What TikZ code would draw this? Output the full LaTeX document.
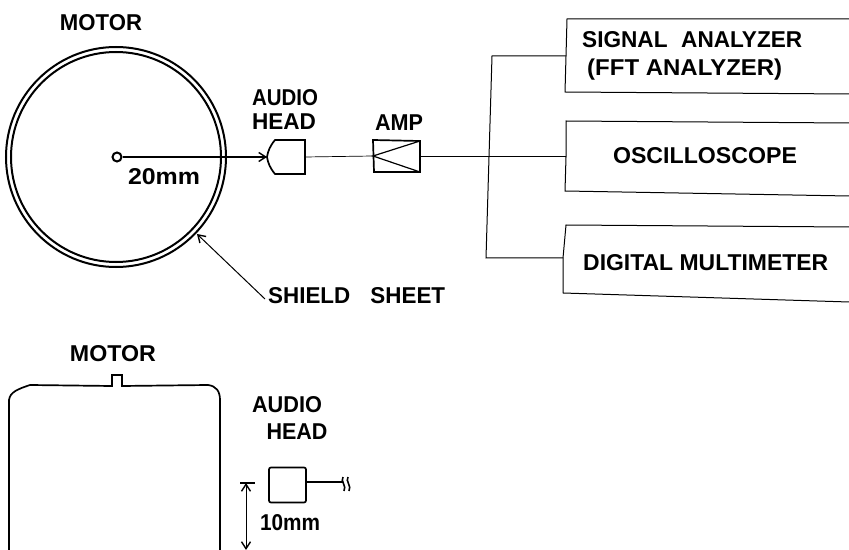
\documentclass[tikz,border=0pt]{standalone}
\usepackage{fontspec}
\setmainfont{Liberation Sans}
\usetikzlibrary{arrows.meta}
\newsavebox{\fitbox}
\newcommand\fitw[2]{\sbox{\fitbox}{#2}\pgfmathsetmacro\fitfac{#1*1.00375/\the\wd\fitbox}\scalebox{\fitfac}[1]{\usebox{\fitbox}}}
\tikzset{
 lbl/.style={font=\fontsize{23}{26}\selectfont\bfseries,inner sep=0pt,text=black},
 thin line/.style={line width=1bp,black},
 thick line/.style={line width=1.7bp,black},
 barb/.tip={Straight Barb[length=7bp,width=9bp,line width=1.4bp]}
}
\begin{document}
\begin{tikzpicture}[x=1bp,y=-1bp]
\useasboundingbox (0,0) rectangle (849,550);
% motor top view
\node[circle,draw,line width=2bp,minimum size=220bp,inner sep=0pt] (shield) at (116,157) {};
\node[circle,draw,line width=2bp,minimum size=210bp,inner sep=0pt] (motor) at (116,157) {};
\node[circle,draw,line width=2bp,minimum size=9bp,inner sep=0pt] (shaft) at (117,157) {};
\node[lbl] (t1) at (101,23) {\fitw{82}{MOTOR}};
% head and amp
\coordinate (headtip) at (267,157);
\draw[thick line] (305,140) -- (275,140) .. controls (270,146) and (268,151) .. (headtip) .. controls (268,163) and (270,168) .. (275,174) -- (305,174) -- cycle;
\coordinate (headout) at (305,157);
\draw[thick line,-barb] (shaft.east) -- (headtip);
\node[lbl] (t0) at (164,177) {\fitw{72}{20mm}};
\node[lbl] (t2) at (285,98) {\fitw{66}{AUDIO}};
\node[lbl] (t3) at (284,122) {\fitw{64}{HEAD}};
\node[lbl] (t4) at (399,123) {\fitw{48}{AMP}};
\coordinate (ampin) at (373,156);
\coordinate (ampa) at (420,141);
\coordinate (ampb) at (420,172);
\draw[thick line] (373,140) -- (ampa) -- (ampb) -- (374,172) -- cycle;
\draw[line width=1.2bp] (ampa) -- (ampin) -- (ampb);
\coordinate (ampout) at (420,157);
\draw[line width=0.7bp] (headout) -- (ampin);
% output boxes
\coordinate (b1) at (566,56);
\coordinate (b2) at (566,157);
\coordinate (b3) at (563,258);
\draw[thin line] (849,19) -- (567,19) -- (b1) -- (565,92) -- (849,94);
\draw[thin line] (849,123) -- (566,121) -- (b2) -- (565,191) -- (849,196);
\draw[thin line] (849,227) -- (566,225) -- (b3) -- (563,293) -- (849,302);
\draw[thin line] (ampout) -- (b2);
\draw[thin line] (b1) -- (492,56) -- (486,258) -- (b3);
\node[lbl,anchor=west] (s1) at (582,40) {\fitw{220}{SIGNAL\hspace{0.6em}ANALYZER}};
\node[lbl,anchor=west] (s2) at (587,70) {\fitw{195}{(FFT ANALYZER)}};
\node[lbl] (s3) at (705,156) {\fitw{184}{OSCILLOSCOPE}};
\node[lbl,anchor=west] (s4) at (583,263) {\fitw{245}{DIGITAL MULTIMETER}};
% shield sheet label
\node[lbl,anchor=west] (t5) at (268,296) {\fitw{177}{SHIELD\hspace{0.9em}SHEET}};
\coordinate (leader) at (265,299);
\coordinate (shieldpt) at (197,234);
\draw[thin line,-barb] (leader) -- (shieldpt);
% side view
\node[lbl] (t6) at (113,354) {\fitw{86}{MOTOR}};
\draw[thick line] (9,550) -- (9,400) .. controls (10,392) and (18,389) .. (30,385) -- (112,386) -- (112,375) -- (122,375) -- (122,386) -- (208,385) .. controls (216,386) and (220,391) .. (220,400) -- (220,550);
\node[lbl] (t7) at (287,405) {\fitw{70}{AUDIO}};
\node[lbl] (t8) at (297,432) {\fitw{61}{HEAD}};
\node[draw,line width=1.7bp,rounded corners=2bp,minimum width=37bp,minimum height=35bp,inner sep=0pt] (sq) at (287.5,485) {};
\coordinate (wire) at (343,482);
\draw[thick line] (sq.east |- wire) -- (wire);
\draw[line width=1.6bp] (343,477) .. controls (340,481) and (347,486) .. (344,491);
\draw[line width=1.6bp] (348,477) .. controls (345,481) and (352,486) .. (349,491);
\coordinate (dtop) at (246,483);
\coordinate (dbarl) at (240,483);
\coordinate (dbarr) at (255,483);
\draw[thick line] (dbarl) -- (dbarr);
\coordinate (dbot) at (246,550);
\draw[thin line,barb-barb] (dtop) -- (dbot);
\node[lbl] (t9) at (290,523) {\fitw{60}{10mm}};
\end{tikzpicture}
\end{document}
